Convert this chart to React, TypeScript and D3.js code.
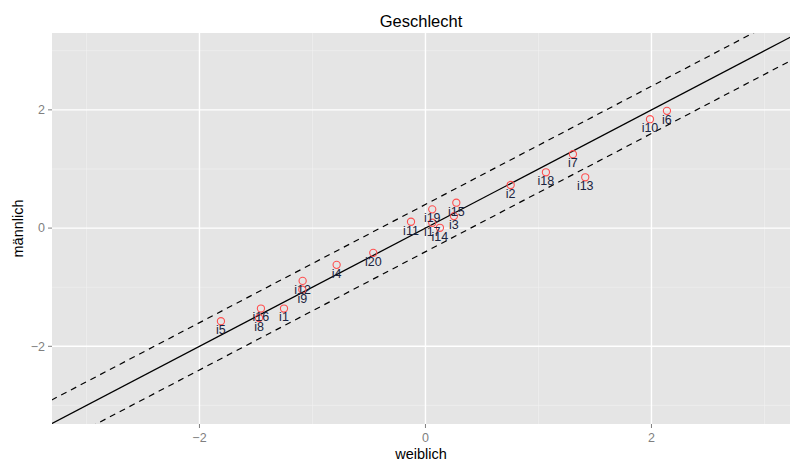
import React from "react";
import * as d3 from "d3";

// items, weiblich (x) vs maennlich (y)
const items = ["i1","i2","i3","i4","i5","i6","i7","i8","i9","i10","i11","i12","i13","i14","i15","i16","i17","i18","i19","i20"];
const weiblich = [-1.252, 0.754, 0.252, -0.786, -1.81, 2.137, 1.305, -1.473, -1.09, 1.987, -0.128, -1.087, 1.414, 0.128, 0.273, -1.456, 0.06, 1.066, 0.06, -0.462];
const maennlich = [-1.361, 0.729, 0.203, -0.622, -1.576, 1.983, 1.249, -1.52, -1.042, 1.842, 0.107, -0.893, 0.859, 0.005, 0.429, -1.361, 0.09, 0.944, 0.317, -0.419];
const ticks = [-2, 0, 2];
const minorTicks = [-3, -1, 1, 3];
const band = 0.4;

const W = 791, H = 461;
const left = 52, right = 790, top = 33, bottom = 424;

export default function App() {
  const x = d3.scaleLinear().domain([-3.305, 3.226]).range([left, right]);
  const y = d3.scaleLinear().domain([-3.314, 3.30]).range([bottom, top]);
  const line = d3.line<number>().x(d => x(d)).y(d => y(d));
  const xs = [-4, 4];
  const font = "'Liberation Sans', Arial, sans-serif";

  return (
    <svg width={W} height={H} style={{ position: "absolute", left: 0, top: 0 }} fontFamily={font}>
      <defs>
        <clipPath id="panel">
          <rect x={left} y={top} width={right - left} height={bottom - top} />
        </clipPath>
      </defs>
      <rect x={left} y={top} width={right - left} height={bottom - top} fill="#e5e5e5" />
      {minorTicks.map(t => (
        <g key={"m" + t}>
          <line x1={x(t)} x2={x(t)} y1={top} y2={bottom} stroke="#f2f2f2" strokeWidth={0.6} />
          <line x1={left} x2={right} y1={y(t)} y2={y(t)} stroke="#f2f2f2" strokeWidth={0.6} />
        </g>
      ))}
      {ticks.map(t => (
        <g key={"t" + t}>
          <line x1={x(t)} x2={x(t)} y1={top} y2={bottom} stroke="#fff" strokeWidth={1.4} />
          <line x1={left} x2={right} y1={y(t)} y2={y(t)} stroke="#fff" strokeWidth={1.4} />
          <line x1={x(t)} x2={x(t)} y1={bottom} y2={bottom + 4} stroke="#7f7f7f" strokeWidth={1} />
          <line x1={left - 4} x2={left} y1={y(t)} y2={y(t)} stroke="#7f7f7f" strokeWidth={1} />
          <text x={x(t)} y={bottom + 18} textAnchor="middle" fontSize={12.5} fill="#7f7f7f">
            {t < 0 ? "\u2212" + Math.abs(t) : t}
          </text>
          <text x={left - 7} y={y(t)} dy="0.35em" textAnchor="end" fontSize={12.5} fill="#7f7f7f">
            {t < 0 ? "\u2212" + Math.abs(t) : t}
          </text>
        </g>
      ))}
      <g clipPath="url(#panel)">
        <path d={line(xs) ?? ""} stroke="#000" strokeWidth={1.3} fill="none" />
        <path d={d3.line<number>().x(d => x(d)).y(d => y(d + band))(xs) ?? ""} stroke="#000" strokeWidth={1.2} strokeDasharray="6,5" fill="none" />
        <path d={d3.line<number>().x(d => x(d)).y(d => y(d - band))(xs) ?? ""} stroke="#000" strokeWidth={1.2} strokeDasharray="6,5" fill="none" />
        {items.map((it, i) => (
          <circle key={"c" + it} cx={x(weiblich[i])} cy={y(maennlich[i])} r={3.6} fill="none" stroke="#ff4f4f" strokeWidth={1.1} />
        ))}
        {items.map((it, i) => (
          <text key={"l" + it} x={x(weiblich[i])} y={y(maennlich[i]) + 8.5} dy="0.35em" textAnchor="middle" fontSize={12.5} fill="#1b2440">
            {it}
          </text>
        ))}
      </g>
      <text x={(left + right) / 2} y={21} dy="0.35em" textAnchor="middle" fontSize={16.5} fill="#000">Geschlecht</text>
      <text x={(left + right) / 2} y={454} dy="0.35em" textAnchor="middle" fontSize={14.5} fill="#000">weiblich</text>
      <text transform={`translate(18,${(top + bottom) / 2}) rotate(-90)`} dy="0.35em" textAnchor="middle" fontSize={14.5} fill="#000">männlich</text>
    </svg>
  );
}
